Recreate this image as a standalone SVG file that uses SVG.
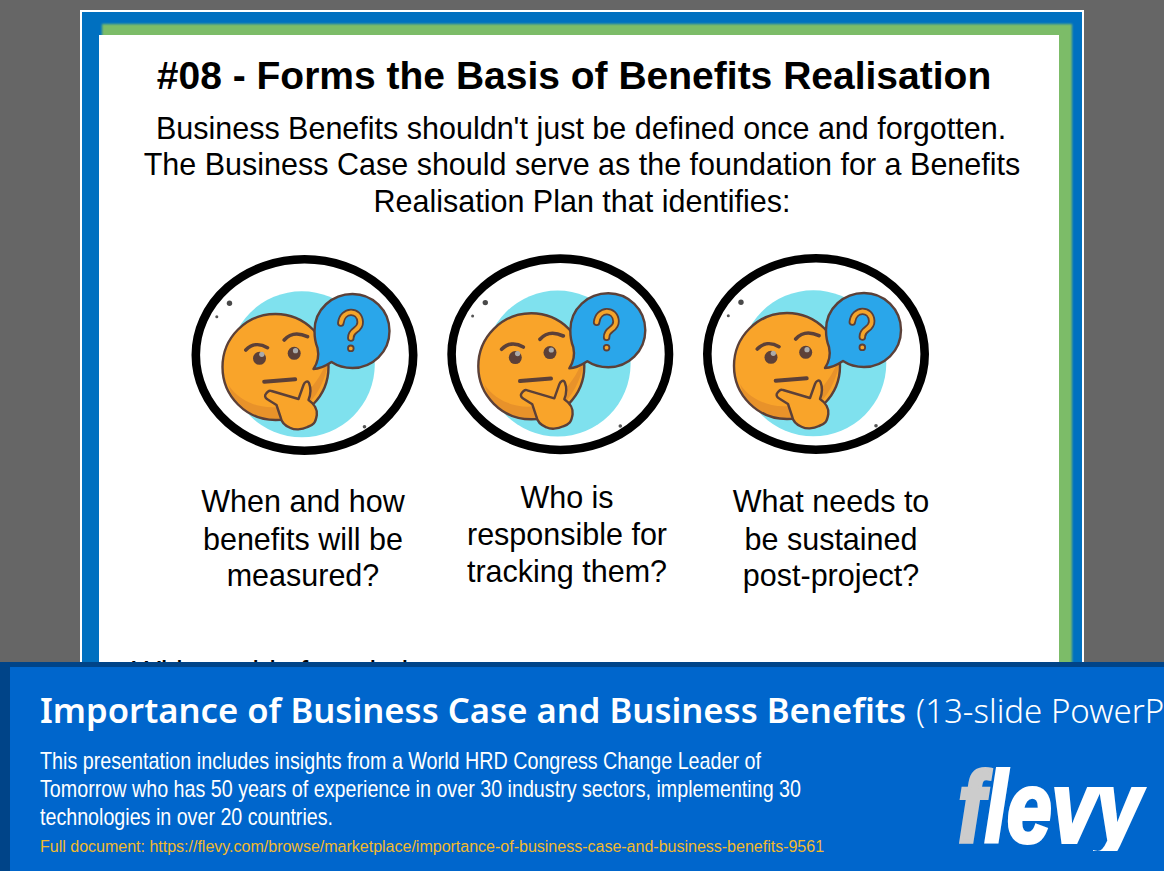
<svg xmlns="http://www.w3.org/2000/svg" width="1164" height="871" viewBox="0 0 1164 871">
<style>
.s{font-family:"Liberation Sans",Arial,sans-serif;fill:#000;text-anchor:middle;font-size:30.5px}
.d{font-family:"Liberation Sans",Arial,sans-serif;font-size:23.2px;fill:#fff}
.t{font-family:"Noto Sans",sans-serif;fill:#fff}
.ink{stroke:#5b4038;stroke-width:2.4;stroke-linejoin:round}
.line{fill:none;stroke:#5b4038;stroke-linecap:round}
</style>
<defs>
<filter id="gb" x="-5%" y="-5%" width="110%" height="110%"><feGaussianBlur stdDeviation="1.3"/></filter>
<filter id="soft" x="-5%" y="-5%" width="110%" height="110%"><feGaussianBlur stdDeviation="0.45"/></filter>
<clipPath id="faceclip"><circle cx="-29" cy="12" r="53"/></clipPath>
<clipPath id="logoclip"><rect x="950" y="760" width="200" height="91"/></clipPath>
<g id="face">
<ellipse cx="0" cy="0" rx="108.700" ry="95.700" fill="#fff" stroke="#000" stroke-width="8.600"/>
<g filter="url(#soft)">
<circle cx="-2.700" cy="9.300" r="73" fill="#7fe1ee"/>
<circle cx="-75" cy="-51.700" r="2.700" fill="#4a4a4a"/>
<circle cx="-87.700" cy="-38.300" r="1.500" fill="#555"/>
<circle cx="60" cy="71.700" r="1.800" fill="#555"/>
<circle cx="-29" cy="12" r="53" fill="#f9a42a"/>
<path d="M24 0C24 30 0 65-29 65-50 65-70 55-76 30-60 55-20 60 0 40 12 28 20 15 24 0Z" fill="#e8922a" clip-path="url(#faceclip)"/>
<circle cx="-29" cy="12" r="53" fill="none" class="ink"/>
<path class="line" stroke-width="3.600" d="M-58.700-5C-53-11-45-12-37-7.300M-20.300-15C-15-21-7-23 3-18.300"/>
<circle cx="-45" cy="3.300" r="6.500" fill="#5b4038"/><circle cx="-42.700" cy="-.7" r="2.600" fill="#aaa"/>
<circle cx="-10.300" cy="-1.700" r="6.500" fill="#5b4038"/><circle cx="-9" cy="-4.300" r="2.600" fill="#aaa"/>
<path class="line" stroke-width="4" d="M-40.300 26.700-9.300 24.300"/>
<path d="M-39.300 40C-37 36-35 35-33 36L-6 44-1 30C0 27 3 25 4.500 28 6.500 33 6 40 4 45 10 49 13 55 12.300 60 11 68 9 70 3 72-3 75-10 75-14 73-19 71-23 68-24 62-26 56-27 53-28 50L-36 45C-38 44-40 43-39.300 40Z" fill="#f9a42a" class="ink"/>
<path d="M10-24C10-46 28-61 48-61 68-61 85-45 85-24 85-3 68 13 48 13 40 13 33 11 27 7 21 11 15 14 9 14 13 8 15 2 13-7 11-12 10-18 10-24Z" fill="#2aa6ea" class="ink"/>
<path class="line" stroke-width="7.400" d="M36.300-32C38-46 55-46 55.700-33 56-24 46-26 46.300-17M46.300-6.700v.1"/>
<path fill="none" stroke="#f5a52b" stroke-width="3.800" stroke-linecap="round" d="M36.300-32C38-46 55-46 55.700-33 56-24 46-26 46.300-17M46.300-6.700v.1"/>
</g>
</g>
</defs>
<g id="background">
<rect width="1164" height="871" fill="#666"/>
<rect x="80" y="10" width="1004" height="670" fill="#fff"/>
<rect x="82" y="12" width="1000" height="668" fill="#0070c0"/>
<rect x="102" y="24" width="970" height="660" fill="#7cbc67" filter="url(#gb)"/>
<rect x="82" y="24" width="17" height="650" fill="#0070c0"/>
<rect x="99" y="35" width="960" height="640" fill="#fff"/>
</g>
<g id="heading">
<text x="574" y="89" font-family="'Liberation Sans',Arial,sans-serif" font-size="39" font-weight="700" text-anchor="middle">#08 - Forms the Basis of Benefits Realisation</text>
<text class="s" x="581" y="139">Business Benefits shouldn't just be defined once and forgotten.</text>
<text class="s" x="582" y="175">The Business Case should serve as the foundation for a Benefits</text>
<text class="s" x="582" y="212">Realisation Plan that identifies:</text>
</g>
<g id="node-when"><use href="#face" x="304.500" y="355"/>
<text class="s" x="303" y="512">When and how</text><text class="s" x="303" y="550">benefits will be</text><text class="s" x="303" y="586">measured?</text></g>
<g id="node-who"><use href="#face" x="560.300" y="354.300"/>
<text class="s" x="567" y="508">Who is</text><text class="s" x="567" y="545">responsible for</text><text class="s" x="567" y="582">tracking them?</text></g>
<g id="node-what"><use href="#face" x="816" y="354"/>
<text class="s" x="831" y="512">What needs to</text><text class="s" x="831" y="550">be sustained</text><text class="s" x="831" y="586">post-project?</text></g>
<g id="cutoff"><text class="s" x="132" y="681" style="text-anchor:start" dy="2">Without this foundation</text></g>
<g id="banner">
<rect x="0" y="662" width="1164" height="209" fill="#004488"/>
<rect x="10" y="667" width="1154" height="204" fill="#0066cc"/>
<text class="t" x="40" y="723" font-size="35" font-weight="600" textLength="866" lengthAdjust="spacingAndGlyphs">Importance of Business Case and Business Benefits</text>
<text class="t" x="916" y="723" font-size="33" font-weight="300">(13-slide PowerPoint presentation)</text>
<text class="d" x="40" y="769" textLength="721" lengthAdjust="spacingAndGlyphs">This presentation includes insights from a World HRD Congress Change Leader of</text>
<text class="d" x="40" y="797" textLength="761" lengthAdjust="spacingAndGlyphs">Tomorrow who has 50 years of experience in over 30 industry sectors, implementing 30</text>
<text class="d" x="40" y="825" textLength="293" lengthAdjust="spacingAndGlyphs">technologies in over 20 countries.</text>
<text x="40" y="852" font-family="'Liberation Sans',Arial,sans-serif" font-size="16" fill="#f2b92c">Full document: https://flevy.com/browse/marketplace/importance-of-business-case-and-business-benefits-9561</text>
<g id="logo" clip-path="url(#logoclip)">
<text x="958" y="842" font-family="'Liberation Sans',Arial,sans-serif" font-weight="700" font-style="italic" font-size="100" stroke-width="4" textLength="183" lengthAdjust="spacingAndGlyphs" fill="#fff" stroke="#fff"><tspan fill="#ccc" stroke="#ccc">f</tspan>levy</text>
</g>
</g>
</svg>
